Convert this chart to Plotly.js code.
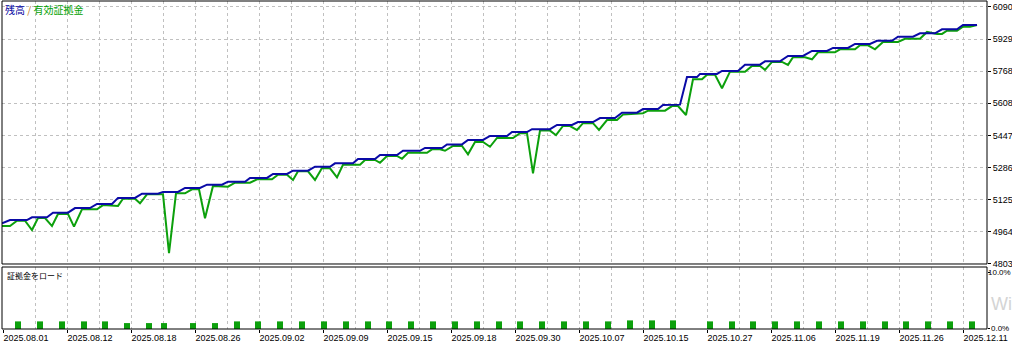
<!DOCTYPE html>
<html>
<head>
<meta charset="utf-8">
<script src="https://cdn.plot.ly/plotly-3.0.1.min.js"></script>
<style>
  html, body { margin: 0; padding: 0; background: #ffffff; }
  #chart { width: 1012px; height: 345px; }
</style>
</head>
<body>
<div id="chart"></div>
<script>
// Tester timeline position of each sample (shared by both panels)
const balanceT = [2,10,27,32,47,53,68,75,90,97,112,118,135,142,158,163,178,185,200,207,222,228,245,250,267,273,287,293,308,315,330,335,353,358,375,380,397,403,420,425,442,447,462,468,483,490,507,512,527,532,550,557,572,578,593,600,615,622,637,643,658,663,680,687,697,700,717,722,738,745,760,765,780,788,803,812,827,833,848,855,870,877,892,898,913,920,935,942,957,963,977];
const balance = [5007,5023,5023,5037,5037,5060,5060,5083,5083,5104,5104,5134,5134,5155,5155,5164,5164,5184,5184,5200,5200,5215,5215,5234,5234,5254,5254,5270,5270,5290,5290,5307,5307,5329,5329,5349,5349,5370,5370,5384,5384,5402,5402,5424,5424,5444,5444,5464,5464,5478,5478,5499,5499,5514,5514,5534,5534,5561,5561,5579,5579,5599,5601,5739,5739,5755,5755,5770,5770,5801,5801,5818,5818,5845,5845,5870,5870,5885,5885,5905,5905,5921,5921,5941,5941,5958,5958,5978,5978,6000,6000];

const equityT = [2,10,17,25,32,38,45,52,58,68,74,82,97,103,118,123,135,140,147,163,169,176,185,192,199,205,213,228,235,250,257,272,278,287,293,298,308,315,322,330,337,343,360,365,375,380,387,397,402,408,427,432,440,445,453,462,468,475,483,490,497,513,520,527,533,540,550,556,563,570,577,583,593,599,607,617,623,643,648,665,672,678,686,693,702,707,715,722,730,745,752,760,765,772,782,788,793,805,812,818,835,840,855,860,868,875,883,898,905,920,927,937,942,947,957,963,970,977];
const equity = [4993,4993,5020,5020,4973,5033,5033,4993,5053,5053,4990,5077,5077,5098,5094,5130,5130,5107,5152,5152,4857,5157,5157,5177,5177,5032,5194,5190,5210,5210,5227,5227,5250,5250,5224,5267,5267,5224,5284,5282,5237,5300,5300,5324,5324,5310,5344,5344,5330,5360,5360,5377,5377,5370,5394,5394,5352,5414,5414,5390,5434,5434,5458,5458,5257,5471,5471,5448,5494,5494,5474,5508,5508,5474,5524,5524,5551,5558,5571,5571,5594,5594,5549,5728,5728,5751,5751,5683,5766,5766,5795,5795,5775,5815,5815,5800,5838,5838,5828,5863,5863,5878,5878,5898,5898,5878,5915,5915,5931,5931,5965,5955,5955,5971,5971,5991,5991,6000];

// Margin load (%) per deal
const loadT = [18,40,62,84,105,127,149,164,193,215,237,258,280,302,324,346,368,389,411,433,455,477,499,520,542,564,586,608,630,652,673,710,732,753,775,797,819,841,863,885,906,928,950,972];
const load = [1.35,1.35,1.35,1.35,1.35,1.05,1.05,1.05,1.05,1.05,1.35,1.35,1.35,1.35,1.35,1.35,1.35,1.35,1.35,1.35,1.35,1.35,1.35,1.35,1.35,1.35,1.35,1.35,1.53,1.53,1.53,1.35,1.35,1.35,1.35,1.35,1.35,1.35,1.35,1.35,1.35,1.35,1.35,1.35];

// Axis labels
const dateTickPos = [3,67,131,195,259,323,387,451,515,579,643,707,771,835,899,963];
const dateLabels = ['2025.08.01','2025.08.12','2025.08.18','2025.08.26','2025.09.02','2025.09.09','2025.09.15','2025.09.18','2025.09.30','2025.10.07','2025.10.15','2025.10.27','2025.11.06','2025.11.19','2025.11.26','2025.12.11'];
const priceTicks = [4803,4964,5125,5286,5447,5608,5768,5929,6090];
const loadTicks = [0,10];
const loadLabels = ['0.0%','10.0%'];

const BLUE = '#0a0aa6';
const GREEN = '#0ca00c';
const GRID = '#c0c0c0';
const FONT = 'Liberation Sans, Arial, sans-serif';
const CJK = 'Noto Sans CJK JP, sans-serif';

const traces = [
  { x: equityT, y: equity, type: 'scatter', mode: 'lines', name: '有効証拠金',
    line: { color: GREEN, width: 2 }, xaxis: 'x', yaxis: 'y', hoverinfo: 'skip' },
  { x: balanceT, y: balance, type: 'scatter', mode: 'lines', name: '残高',
    line: { color: BLUE, width: 2 }, xaxis: 'x', yaxis: 'y', hoverinfo: 'skip' },
  { x: loadT, y: load, type: 'bar', name: '証拠金をロード', width: 6,
    marker: { color: GREEN, line: { width: 0 } }, xaxis: 'x', yaxis: 'y2', hoverinfo: 'skip' }
];

// load-axis labels drawn as annotations so the wider one stays inside the page
const loadLabelAnnots = loadTicks.map((v, i) => ({
  xref: 'paper', yref: 'y2', x: i === 1 ? 1.0254 : 1.003, y: v,
  xanchor: i === 1 ? 'right' : 'left', yanchor: 'middle', showarrow: false, borderpad: 0,
  font: { family: FONT, size: 8, color: '#000000' }, text: loadLabels[i]
}));

const layout = {
  width: 1012, height: 345,
  margin: { l: 2, r: 25, t: 1, b: 16 },
  paper_bgcolor: '#ffffff', plot_bgcolor: '#ffffff',
  showlegend: false,
  font: { family: FONT, size: 9, color: '#000000' },
  xaxis: {
    anchor: 'y2', range: [2, 987], fixedrange: true,
    tickmode: 'array', tickvals: dateTickPos, ticktext: dateLabels,
    ticklabelposition: 'outside right',
    ticks: 'outside', ticklen: 3, tickwidth: 1, tickcolor: '#000000',
    showgrid: true, gridcolor: GRID, griddash: '3px,3px', gridwidth: 1,
    minor: { tickmode: 'linear', tick0: 35, dtick: 64, showgrid: true, gridcolor: GRID, griddash: '3px,3px', gridwidth: 1, ticks: '' },
    zeroline: false, showline: false,
    tickfont: { family: FONT, size: 9, color: '#000000' }
  },
  yaxis: {
    domain: [0.1982, 1], range: [4803, 6120], side: 'right', anchor: 'x',
    tickmode: 'array', tickvals: priceTicks, ticktext: priceTicks.map(String),
    ticks: 'outside', ticklen: 3, tickcolor: '#000000',
    showgrid: true, gridcolor: GRID, griddash: '3px,3px', gridwidth: 1,
    zeroline: false, showline: false, fixedrange: true,
    tickfont: { family: FONT, size: 9, color: '#000000' }
  },
  yaxis2: {
    domain: [0, 0.189], range: [0, 11.0], side: 'right', anchor: 'x',
    tickmode: 'array', tickvals: loadTicks, ticktext: loadLabels, showticklabels: false,
    ticks: 'outside', ticklen: 2, tickcolor: '#000000',
    showgrid: false, zeroline: false, showline: false, fixedrange: true
  },
  shapes: [
    { type: 'rect', xref: 'x domain', yref: 'y domain', x0: 0, x1: 1, y0: 0, y1: 1,
      line: { color: '#000000', width: 1 }, layer: 'above' },
    { type: 'rect', xref: 'x domain', yref: 'y2 domain', x0: 0, x1: 1, y0: 0, y1: 1,
      line: { color: '#000000', width: 1 }, layer: 'above' }
  ],
  annotations: [
    { xref: 'paper', yref: 'paper', x: 0.001, y: 0.9726, xanchor: 'left', yanchor: 'middle',
      showarrow: false, font: { family: CJK, size: 10 },
      text: '<span style="color:#0000a0">残高</span> <span style="color:#c07a20">/</span> <span style="color:#00a000">有効証拠金</span>' },
    { xref: 'paper', yref: 'paper', x: 0.003, y: 0.1616, xanchor: 'left', yanchor: 'middle',
      showarrow: false, font: { family: CJK, size: 8, color: '#000000' },
      text: '証拠金をロード' },
    { xref: 'paper', yref: 'paper', x: 1.002, y: 0.075, xanchor: 'left', yanchor: 'middle',
      showarrow: false, font: { family: 'Liberation Sans, sans-serif', size: 18, color: '#d4d4d4' },
      text: 'Wi' }
  ].concat(loadLabelAnnots)
};

Plotly.newPlot('chart', traces, layout, { staticPlot: true, displayModeBar: false });
</script>
</body>
</html>
